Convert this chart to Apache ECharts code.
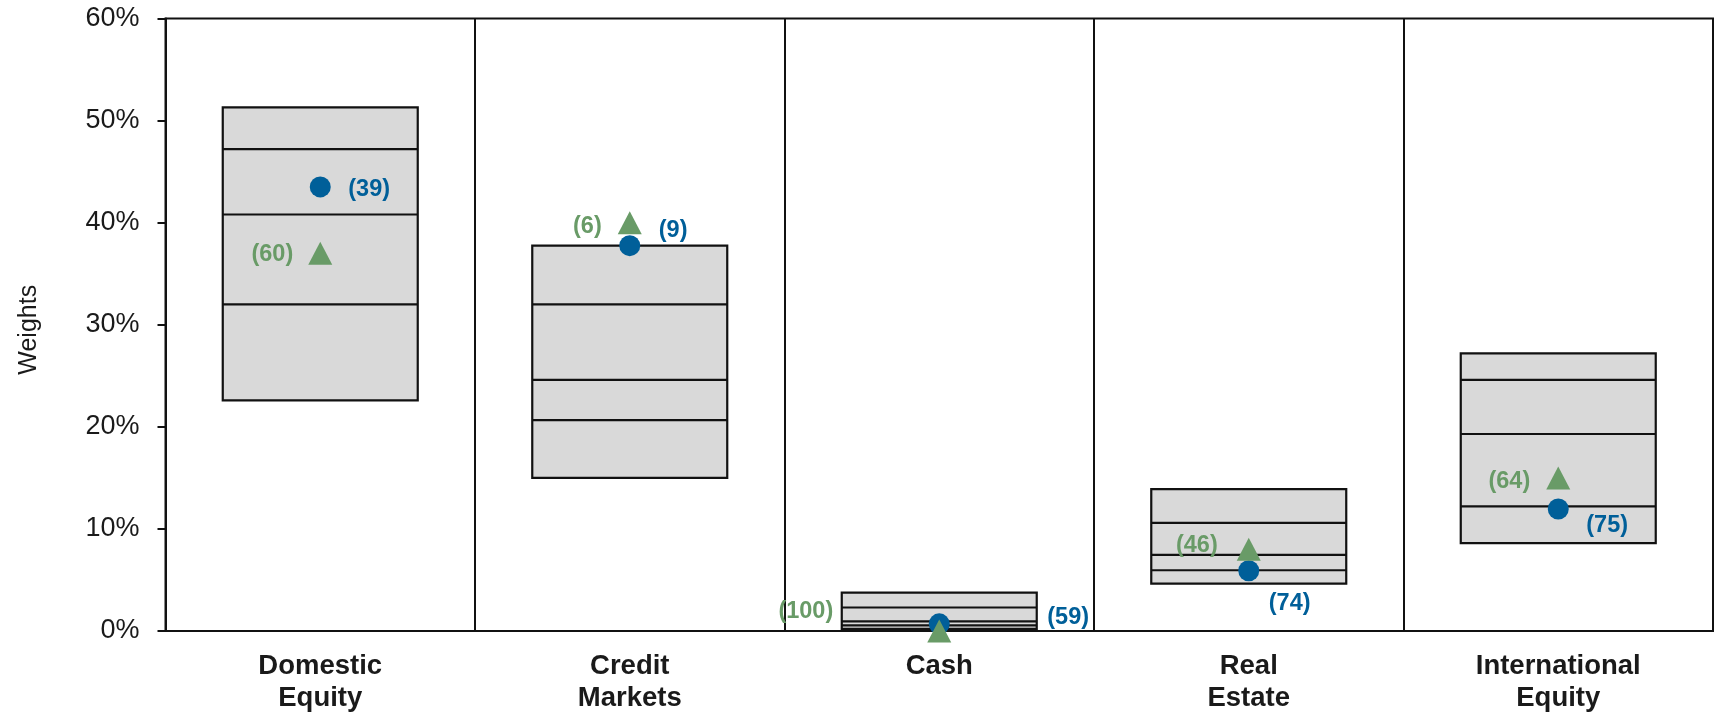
<!DOCTYPE html>
<html>
<head>
<meta charset="utf-8">
<title>Asset Class Weights</title>
<script src="https://cdn.jsdelivr.net/npm/echarts@6/dist/echarts.min.js"></script>
<style>
  html, body { margin: 0; padding: 0; background: #ffffff; }
  #chart { width: 1721px; height: 714px; }
</style>
</head>
<body>
<div id="chart"></div>
<script>
// Asset classes along the x axis
const categories = ['Domestic\nEquity', 'Credit\nMarkets', 'Cash', 'Real\nEstate', 'International\nEquity'];

// Peer-universe percentiles of weight (%), one value per asset class
const pct5  = [22.6, 15.0, 0.2, 4.65, 8.6];
const pct25 = [32.0, 20.65, 0.55, 5.95, 12.2];
const pct50 = [40.8, 24.6, 0.95, 7.45, 19.3];
const pct75 = [47.2, 32.0, 2.3, 10.6, 24.6];
const pct95 = [51.3, 37.75, 3.75, 13.9, 27.2];

// Portfolio weights (%) and their percentile ranks
const portfolioWeights = [43.5, 37.75, 0.7, 5.9, 11.95];
const portfolioRanks   = [39, 9, 59, 74, 75];
const policyWeights    = [37.0, 40.0, 0.0, 8.0, 15.0];
const policyRanks      = [60, 6, 100, 46, 64];

// Y axis tick values (%)
const yTicks = [0, 10, 20, 30, 40, 50, 60];

// Label placement beside each marker: [dx, dy] from the marker centre
const portfolioLabelOffsets = [[28, 2.5], [29, -15.5], [108, -6.5], [20, 32.5], [28, 16.5]];
const policyLabelOffsets    = [[-27, 1.5], [-28, 3.5], [-106, -19.5], [-31, -3.5], [-28, 3.5]];

const BLUE = '#005f99';
const GREEN = '#699b67';
const INK = '#111111';
const BOX_FILL = '#d9d9d9';
const FONT = 'Liberation Sans, Arial, sans-serif';

const boxData = categories.map((c, i) => [i, pct5[i], pct25[i], pct50[i], pct75[i], pct95[i]]);

function renderBox(params, api) {
  const idx = api.value(0);
  const halfW = api.size([1, 0])[0] * 0.63 / 2;
  const top = api.coord([idx, api.value(5)]);
  const bottom = api.coord([idx, api.value(1)]);
  const cx = top[0];
  const lineStyle = { stroke: INK, lineWidth: 2.2 };
  const children = [{
    type: 'rect',
    shape: { x: cx - halfW, y: top[1], width: halfW * 2, height: bottom[1] - top[1] },
    style: { fill: BOX_FILL, stroke: INK, lineWidth: 2.2 }
  }];
  [2, 3, 4].forEach(k => {
    const y = api.coord([idx, api.value(k)])[1];
    children.push({
      type: 'line',
      shape: { x1: cx - halfW, y1: y, x2: cx + halfW, y2: y },
      style: lineStyle
    });
  });
  return { type: 'group', children: children };
}

function markerData(values, ranks, offsets, align) {
  return values.map((v, i) => ({
    value: [i, v],
    label: {
      show: true,
      formatter: '(' + ranks[i] + ')',
      position: 'inside',
      align: align,
      verticalAlign: 'middle',
      offset: offsets[i]
    }
  }));
}

const chart = echarts.init(document.getElementById('chart'), null, { renderer: 'canvas' });

chart.setOption({
  animation: false,
  backgroundColor: '#ffffff',
  grid: {
    left: 165.5, right: 8, top: 18.5, bottom: 81.2,
    show: true, borderColor: INK, borderWidth: 2, backgroundColor: '#ffffff'
  },
  xAxis: {
    type: 'category',
    data: categories,
    boundaryGap: true,
    axisLine: { show: true, lineStyle: { color: INK, width: 2 } },
    axisTick: { show: false },
    splitLine: { show: true, lineStyle: { color: INK, width: 2 } },
    axisLabel: {
      interval: 0,
      margin: 20,
      fontFamily: FONT,
      fontSize: 27.5,
      fontWeight: 'bold',
      lineHeight: 31.5,
      color: '#1a1a1a'
    }
  },
  yAxis: {
    type: 'value',
    min: yTicks[0],
    max: yTicks[yTicks.length - 1],
    interval: yTicks[1] - yTicks[0],
    name: 'Weights',
    nameLocation: 'middle',
    nameGap: 124,
    nameTextStyle: {
      fontFamily: FONT,
      fontSize: 25,
      color: '#1a1a1a',
      padding: [0, 10, 0, 0]
    },
    axisLine: { show: true, lineStyle: { color: INK, width: 2 } },
    axisTick: { show: true, inside: false, length: 8, lineStyle: { color: INK, width: 2 } },
    splitLine: { show: false },
    axisLabel: {
      margin: 26,
      padding: [7, 0, 0, 0],
      formatter: '{value}%',
      fontFamily: FONT,
      fontSize: 27,
      color: '#1a1a1a'
    }
  },
  series: [
    {
      type: 'custom',
      name: 'Peer range',
      renderItem: renderBox,
      data: boxData,
      encode: { x: 0, y: [1, 2, 3, 4, 5] },
      z: 2
    },
    {
      type: 'scatter',
      name: 'Portfolio',
      symbol: 'circle',
      symbolSize: 21,
      itemStyle: { color: BLUE, opacity: 1 },
      label: {
        color: BLUE,
        fontFamily: FONT,
        fontSize: 23.5,
        fontWeight: 'bold'
      },
      data: markerData(portfolioWeights, portfolioRanks, portfolioLabelOffsets, 'left'),
      z: 3
    },
    {
      type: 'scatter',
      name: 'Policy',
      symbol: 'triangle',
      symbolSize: [24, 23],
      itemStyle: { color: GREEN, opacity: 1 },
      label: {
        color: GREEN,
        fontFamily: FONT,
        fontSize: 23.5,
        fontWeight: 'bold'
      },
      data: markerData(policyWeights, policyRanks, policyLabelOffsets, 'right'),
      z: 4
    }
  ]
});
</script>
</body>
</html>
